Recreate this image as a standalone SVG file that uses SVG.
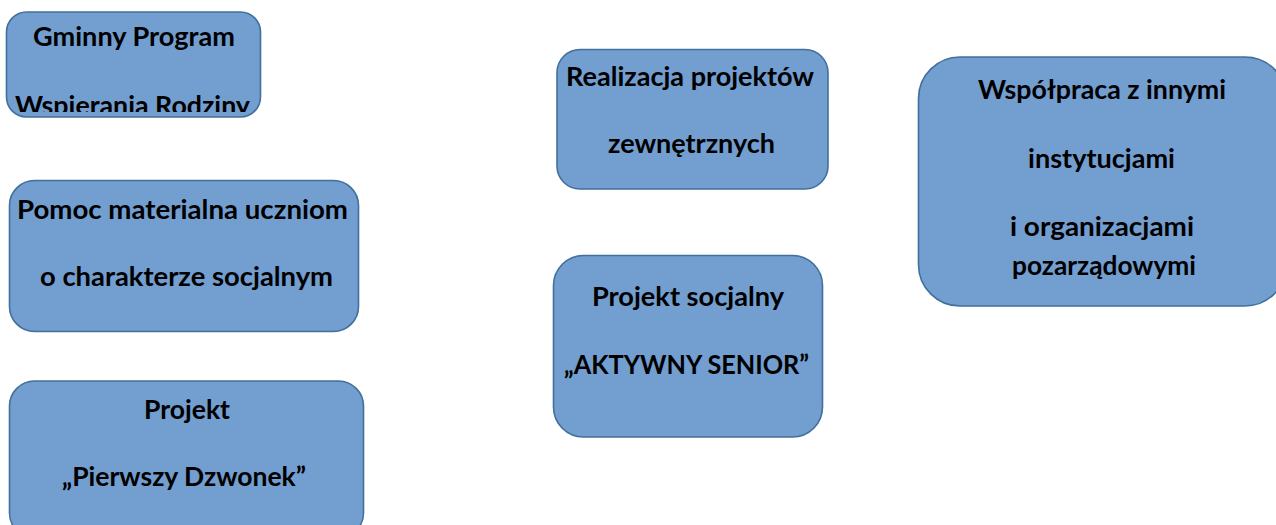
<svg xmlns="http://www.w3.org/2000/svg" width="1276" height="525" viewBox="0 0 1276 525">
<style>
.box{fill:#739ED0;stroke:#41709C;stroke-width:1.6}
.t{font-family:"Lato","Open Sans","Liberation Sans",sans-serif;font-weight:bold;font-size:27px;fill:#000;text-anchor:middle}
</style>
<defs>
<clipPath id="clip1"><rect x="6" y="12" width="255" height="100"/></clipPath>
</defs>
<rect width="1276" height="525" fill="#fff"/>
<g id="connectors"></g>
<g id="n1">
<rect class="box" x="6.5" y="12" width="254" height="105" rx="20"/>
<g clip-path="url(#clip1)">
<text class="t" x="134" y="46" textLength="202" lengthAdjust="spacingAndGlyphs">Gminny Program</text>
<text class="t" x="132.5" y="115" textLength="235" lengthAdjust="spacingAndGlyphs">Wspierania Rodziny</text>
</g>
</g>
<g id="n2">
<rect class="box" x="9.5" y="180.5" width="349" height="151" rx="25"/>
<text class="t" x="182.5" y="218.5" textLength="331" lengthAdjust="spacingAndGlyphs">Pomoc materialna uczniom</text>
<text class="t" x="186.5" y="285.5" textLength="293" lengthAdjust="spacingAndGlyphs">o charakterze socjalnym</text>
</g>
<g id="n3">
<rect class="box" x="9.5" y="381" width="354" height="157" rx="25"/>
<text class="t" x="187" y="418.5" textLength="86" lengthAdjust="spacingAndGlyphs">Projekt</text>
<text class="t" x="184" y="485.5" textLength="244" lengthAdjust="spacingAndGlyphs">„Pierwszy Dzwonek”</text>
</g>
<g id="n4">
<rect class="box" x="557" y="49.5" width="271" height="139.5" rx="23"/>
<text class="t" x="690" y="85.5" textLength="248" lengthAdjust="spacingAndGlyphs">Realizacja projektów</text>
<text class="t" x="691.5" y="152.5" textLength="167" lengthAdjust="spacingAndGlyphs">zewnętrznych</text>
</g>
<g id="n5">
<rect class="box" x="553.5" y="255.5" width="269" height="181.5" rx="30"/>
<text class="t" x="688" y="305.5" textLength="192" lengthAdjust="spacingAndGlyphs">Projekt socjalny</text>
<text class="t" x="686.5" y="373.5" textLength="245" lengthAdjust="spacingAndGlyphs">„AKTYWNY SENIOR”</text>
</g>
<g id="n6">
<rect class="box" x="918.5" y="57" width="368" height="249" rx="41.5"/>
<text class="t" x="1102" y="98.5" textLength="248" lengthAdjust="spacingAndGlyphs">Współpraca z innymi</text>
<text class="t" x="1101.5" y="167.5" textLength="147" lengthAdjust="spacingAndGlyphs">instytucjami</text>
<text class="t" x="1102" y="235.5" textLength="184" lengthAdjust="spacingAndGlyphs">i organizacjami</text>
<text class="t" x="1104" y="274.5" textLength="184" lengthAdjust="spacingAndGlyphs">pozarządowymi</text>
</g>
</svg>
